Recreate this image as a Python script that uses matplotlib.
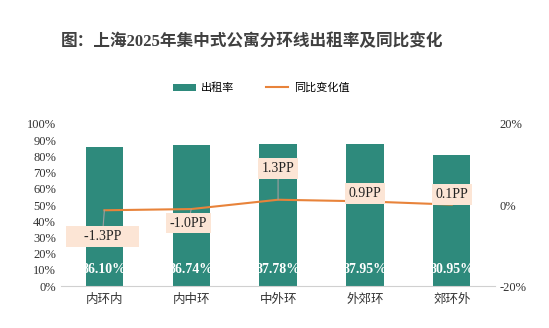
import numpy as np
import matplotlib.pyplot as plt

plt.rcParams['font.family'] = ['Liberation Serif', 'Noto Sans CJK SC']

rings = ['内环内', '内中环', '中外环', '外郊环', '郊环外']
occupancy = [86.10, 86.74, 87.78, 87.95, 80.95]   # 出租率 %
yoy_change = [-1.3, -1.0, 1.3, 0.9, 0.1]         # 同比变化值 PP

bar_color = '#2E8A7C'
line_color = '#E8833A'
box_color = '#FCE5D5'

fig = plt.figure(figsize=(5.49, 3.28), dpi=100)
ax = fig.add_axes([0.111, 0.128, 0.791, 0.494])
x = np.arange(len(rings))

bars = ax.bar(x, occupancy, width=0.43, color=bar_color, label='出租率', zorder=2)
ax.set_ylim(0, 100)
ax.set_xlim(-0.5, len(rings) - 0.5)
ax.set_yticks(np.arange(0, 101, 10))
ax.set_yticklabels([f'{v}%' for v in range(0, 101, 10)])
ax.set_xticks(x)
ax.set_xticklabels(rings)
for s in ['top', 'right', 'left']:
    ax.spines[s].set_visible(False)
ax.spines['bottom'].set_color('#D0D0D0')
ax.tick_params(axis='both', length=0, labelsize=9, colors='#333333')
ax.tick_params(axis='x', pad=6)

for xi, v in zip(x, occupancy):
    ax.text(xi, 10, f'{v:.2f}%', ha='center', va='center', color='white',
            fontsize=10, fontweight='bold', zorder=3)

ax2 = ax.twinx()
ax2.set_ylim(-20, 20)
ax2.set_yticks([-20, 0, 20])
ax2.set_yticklabels(['-20%', '0%', '20%'])
for s in ax2.spines.values():
    s.set_visible(False)
ax2.tick_params(axis='y', length=0, labelsize=9, colors='#333333', pad=3)
ax2.plot(x, yoy_change, color=line_color, lw=1.5, label='同比变化值', zorder=3)

offsets = [(-2, -26), (-3, -14), (0, 31), (0, 8), (0, 10)]
for i, (xi, v) in enumerate(zip(x, yoy_change)):
    txt = f'{v:.1f}PP'
    if i == 0:
        txt = '    ' + txt + '    '
    ax2.annotate(txt, (xi, v), xytext=offsets[i], textcoords='offset pixels',
                 ha='center', va='center', fontsize=10, color='#222222',
                 bbox=dict(boxstyle='square,pad=0.28', fc=box_color, ec='none'),
                 arrowprops=dict(arrowstyle='-', color='#A0A0A0', lw=0.8,
                                 shrinkA=0, shrinkB=0),
                 zorder=4)

fig.text(0.46, 0.872, '图：上海2025年集中式公寓分环线出租率及同比变化', ha='center',
         va='center', fontsize=12, fontweight='bold', color='#404040')

h1, l1 = ax.get_legend_handles_labels()
h2, l2 = ax2.get_legend_handles_labels()
fig.legend(h1 + h2, l1 + l2, loc='center', bbox_to_anchor=(0.476, 0.732), ncol=2,
           frameon=False, fontsize=8, columnspacing=2.8, handlelength=2.0,
           handleheight=0.6, handletextpad=0.5)

fig.savefig('out.png', dpi=100)
